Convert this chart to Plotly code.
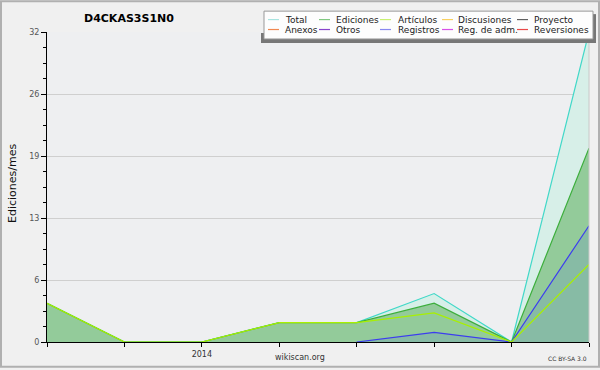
import plotly.graph_objects as go

# ---- data ----
months = ["2013-11", "2013-12", "2014-01", "2014-02", "2014-03", "2014-04", "2014-05", "2014-06"]
x_labels = ["", "", "2014", "", "", "", "", ""]
total = [4, 0, 0, 2, 2, 5, 0, 32]
ediciones = [4, 0, 0, 2, 2, 4, 0, 20]
articulos = [4, 0, 0, 2, 2, 3, 0, 8]
registros = [None, None, None, None, 0, 1, 0, 12]

y_tickvals = [0, 6.4, 12.8, 19.2, 25.6, 32]
y_ticktext = ["0", "6", "13", "19", "26", "32"]
y_minor = [i * 1.6 for i in range(21)]

legend_names = ["Total", "Ediciones", "Artículos", "Discusiones", "Proyecto",
                "Anexos", "Otros", "Registros", "Reg. de adm.", "Reversiones"]
legend_colors = ["#a8e4e0", "#80c880", "#c8f070", "#f8d060", "#606060",
                 "#f08850", "#8844cc", "#8888f0", "#d850e8", "#e84848"]

# ---- layout helpers (pixel -> paper) ----
W, H = 600, 370
L, R, T, B = 47, 11, 32, 26
PW, PH = W - L - R, H - T - B


def px(x):
    return (x - L) / PW


def py(y):
    return (H - B - y) / PH


xs = list(range(len(months)))
FONT = "DejaVu Sans"

fig = go.Figure()
fig.add_trace(go.Scatter(x=xs, y=total, mode="lines", line=dict(color="#40d8c8", width=1.2),
                         fill="tozeroy", fillcolor="#d7efe8", name="Total", showlegend=False))
fig.add_trace(go.Scatter(x=xs, y=ediciones, mode="lines", line=dict(color="#3cae3c", width=1.2),
                         fill="tozeroy", fillcolor="#93cb9a", name="Ediciones", showlegend=False))
fig.add_trace(go.Scatter(x=xs, y=registros, mode="lines", line=dict(color="#3c3cf0", width=1.2),
                         fill="tozeroy", fillcolor="#87bba5", name="Registros", showlegend=False))
fig.add_trace(go.Scatter(x=xs, y=articulos, mode="lines", line=dict(color="#a8f000", width=1.2),
                         name="Artículos", showlegend=False))

shapes = []
annotations = []

# outer border
shapes.append(dict(type="rect", xref="paper", yref="paper", x0=px(1), x1=px(599), y0=py(1), y1=py(369),
                   line=dict(color="#b0b0b0", width=2), fillcolor="rgba(0,0,0,0)", layer="above"))
# right frame line of plot
shapes.append(dict(type="line", xref="paper", yref="paper", x0=1, x1=1, y0=0, y1=1,
                   line=dict(color="#c8c8c8", width=1), layer="above"))

# legend shadow and box
for (a, b, c, d) in [(261, 39, 596, 43), (593, 14, 596, 43), (261, 33, 264, 43)]:
    shapes.append(dict(type="rect", xref="paper", yref="paper", x0=px(a), x1=px(c), y0=py(b), y1=py(d),
                       line=dict(width=0), fillcolor="#777777", layer="above"))
shapes.append(dict(type="rect", xref="paper", yref="paper", x0=px(264), x1=px(593), y0=py(11), y1=py(39),
                   line=dict(color="#999999", width=1), fillcolor="#fdfdfd", layer="above"))

col_line_x = [268, 319, 380, 442, 517]
col_text_x = [284, 335, 397, 457, 533]
row_y = [19.5, 29.5]
for i, (name, color) in enumerate(zip(legend_names, legend_colors)):
    r, c = divmod(i, 5)
    yv = py(row_y[r])
    shapes.append(dict(type="line", xref="paper", yref="paper", x0=px(col_line_x[c]), x1=px(col_line_x[c] + 11),
                       y0=yv, y1=yv, line=dict(color=color, width=1.2), layer="above"))
    annotations.append(dict(text=name, xref="paper", yref="paper", x=px(col_text_x[c] - 1), y=yv,
                            xanchor="left", yanchor="middle", showarrow=False,
                            font=dict(family=FONT, size=9, color="#222222")))

# title
annotations.append(dict(text="<b>D4CKAS3S1N0</b>", xref="paper", yref="paper", x=px(129), y=py(18),
                        xanchor="center", yanchor="middle", showarrow=False,
                        font=dict(family=FONT, size=11, color="#000000")))
# y title
annotations.append(dict(text="Ediciones/mes", xref="paper", yref="paper", x=px(12), y=py(185),
                        xanchor="center", yanchor="middle", showarrow=False, textangle=-90,
                        font=dict(family=FONT, size=11, color="#111111")))
# footer texts
annotations.append(dict(text="wikiscan.org", xref="paper", yref="paper", x=px(300), y=py(360),
                        xanchor="center", yanchor="middle", showarrow=False,
                        font=dict(family=FONT, size=8, color="#333333")))
annotations.append(dict(text="CC BY-SA 3.0", xref="paper", yref="paper", x=px(589), y=py(361),
                        xanchor="right", yanchor="middle", showarrow=False,
                        font=dict(family=FONT, size=6, color="#333333")))

fig.update_layout(
    width=W, height=H,
    margin=dict(l=L, r=R, t=T, b=B, pad=0),
    paper_bgcolor="#f0f0f0",
    plot_bgcolor="#eeeff1",
    showlegend=False,
    shapes=shapes,
    annotations=annotations,
    xaxis=dict(range=[0, len(months) - 1], tickmode="array", tickvals=xs, ticktext=x_labels,
               ticks="outside", ticklen=4, tickcolor="#000000", showline=True, linecolor="#000000",
               linewidth=1, showgrid=False, zeroline=False,
               tickfont=dict(family=FONT, size=8, color="#333333")),
    yaxis=dict(range=[0, 32], tickmode="array", tickvals=y_tickvals, ticktext=y_ticktext,
               ticks="outside", ticklen=5, tickcolor="#000000", showline=True, linecolor="#000000",
               linewidth=1, showgrid=True, gridcolor="#cfcfcf", gridwidth=1, zeroline=False,
               tickfont=dict(family=FONT, size=8, color="#555555"),
               minor=dict(tickmode="array", tickvals=y_minor, ticks="outside", ticklen=3,
                          tickcolor="#000000", showgrid=False)),
)

fig.write_html("out.html")
